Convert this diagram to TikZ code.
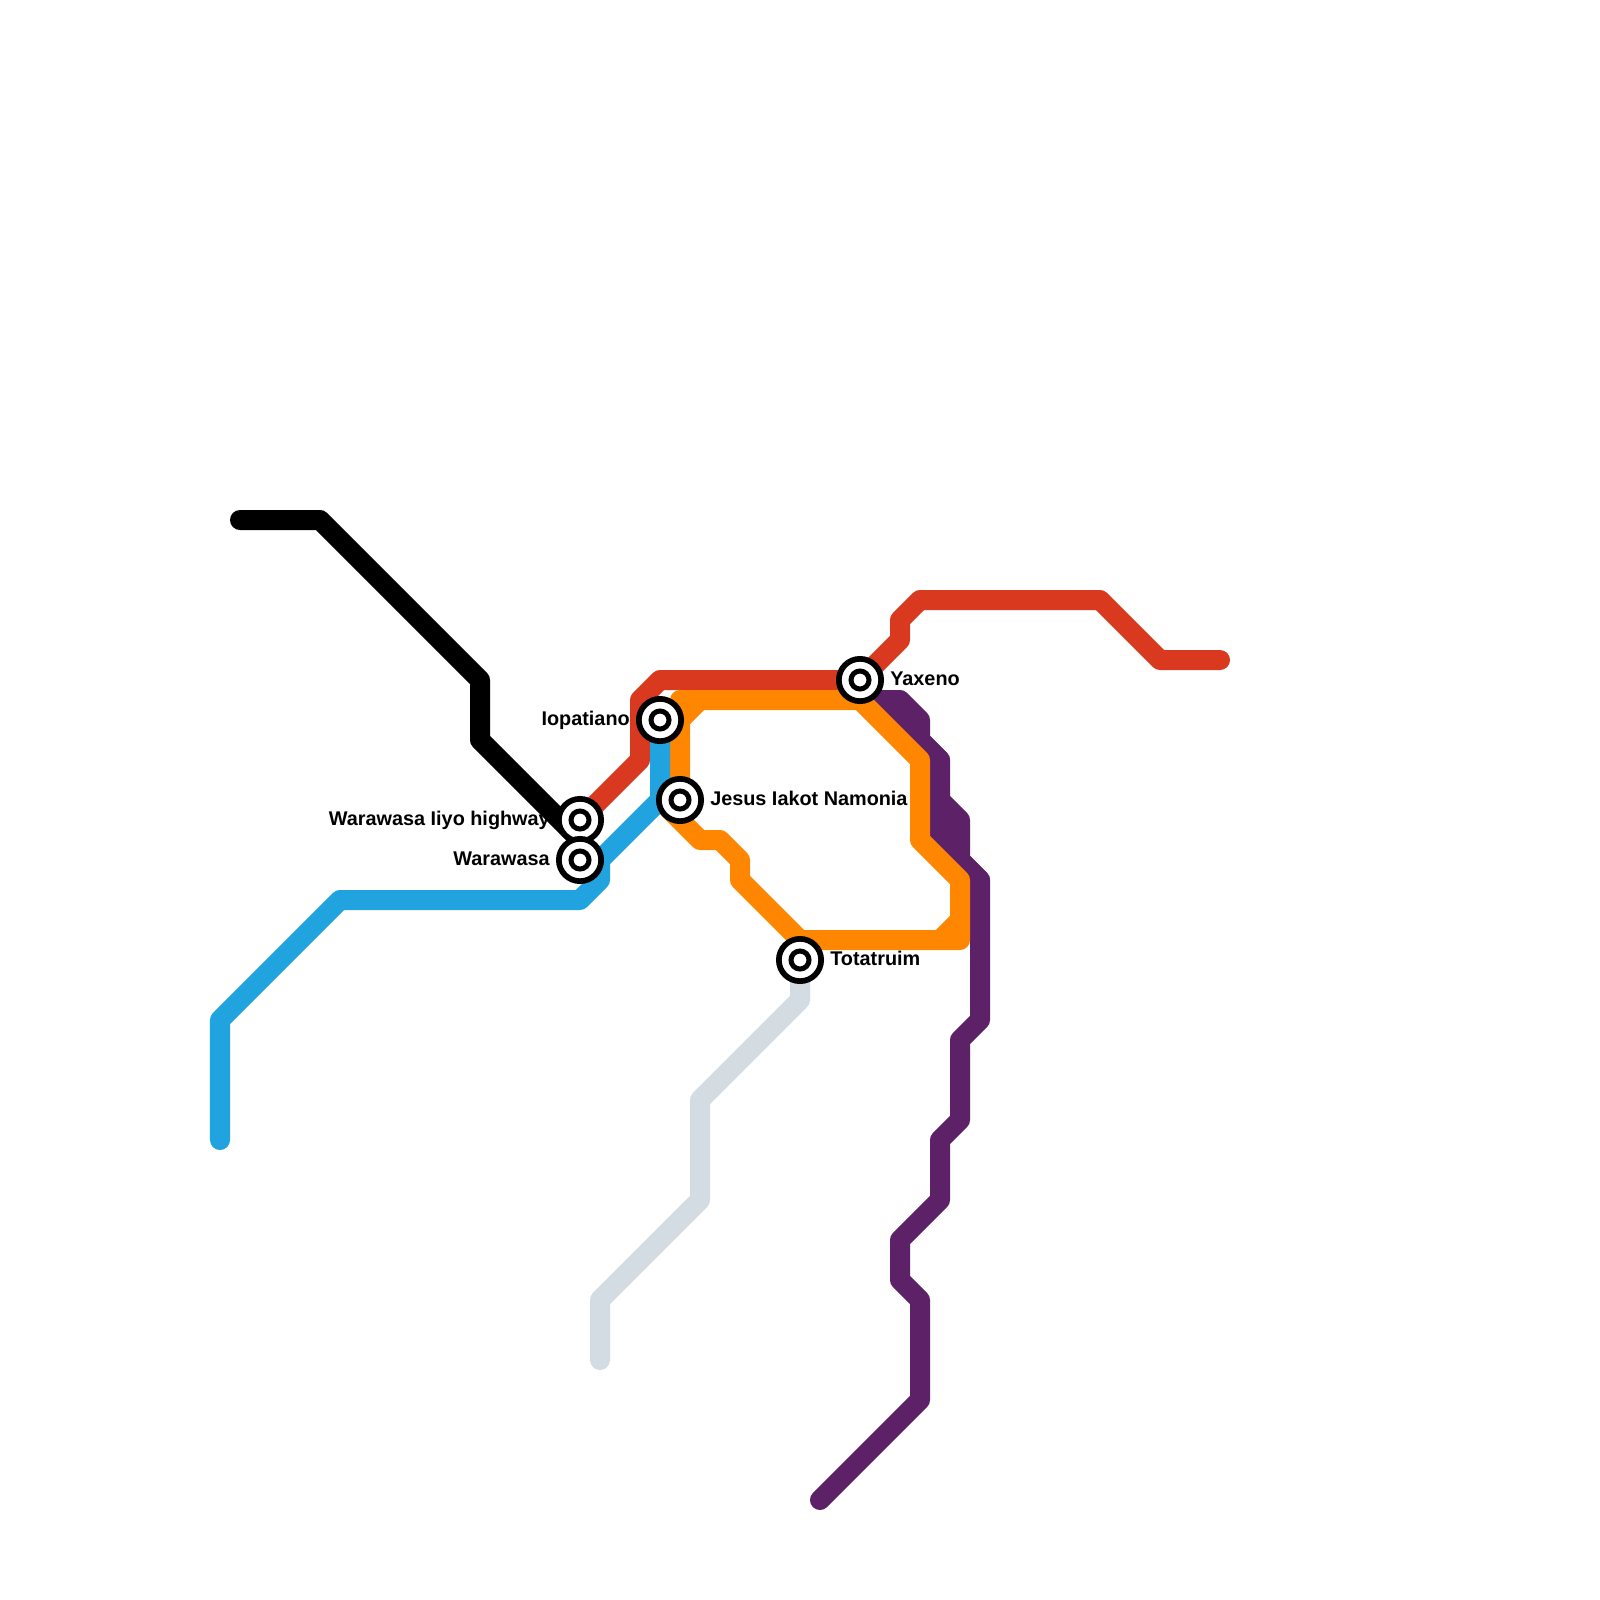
\documentclass[tikz,border=0pt]{standalone}
\usepackage{fontspec}
\setmainfont{Liberation Sans}
\usetikzlibrary{positioning}
\definecolor{linered}{HTML}{D8391F}
\definecolor{lineorange}{HTML}{FF8600}
\definecolor{lineblue}{HTML}{21A3E0}
\definecolor{linepurple}{HTML}{5C2166}
\definecolor{linegrey}{HTML}{D3DCE3}

\begin{document}
\begin{tikzpicture}[
  x=0.025cm, y=-0.025cm,
  node distance=0.15cm,
  route/.style={line width=0.5cm, line cap=round, line join=round},
  station/.style={circle, draw=black, fill=white, line width=0.1425cm, minimum size=1.0575cm, inner sep=0pt},
  hub/.style={circle, draw=black, fill=white, line width=0.125cm, minimum size=0.45cm, inner sep=0pt},
  lbl/.style={font=\bfseries\fontsize{14.1pt}{16pt}\selectfont, inner sep=0pt, text height=1.7ex, text depth=0.3ex}]
  \useasboundingbox (0,0) rectangle (1600,1600);

  % stops first, the routes are laid under them
  \coordinate (yax) at (860,680);
  \coordinate (iop) at (660,720);
  \coordinate (jes) at (680,800);
  \coordinate (lii) at (580,820);
  \coordinate (war) at (580,860);
  \coordinate (tot) at (800,960);
  \coordinate (blk) at (580,840);

  \draw[route, black] (240,520) -- (320,520) -- (480,680) -- (480,740) -- (blk);
  \draw[route, linegrey] (tot) -- (800,1000) -- (700,1100) -- (700,1200) -- (600,1300) -- (600,1360);
  \draw[route, linered] (lii) -- (640,760) -- (640,700) -- (660,680) -- (yax) -- (900,640) -- (900,620) -- (920,600) -- (1100,600) -- (1160,660) -- (1220,660);

  % purple is three routes side by side
  \draw[route, linepurple] (820,1500) -- (920,1400) -- (920,1300) -- (900,1280) -- (900,1240) -- (940,1200) -- (940,1140) -- (960,1120) -- (960,1040) -- (980,1020) -- (980,880) -- (960,860) -- (960,820) -- (940,800) -- (940,760) -- (920,740) -- (920,720) -- (900,700) -- (860,700);
  \draw[route, linepurple] (940,800) -- (940,840) -- (980,880);
  \draw[route, linepurple] (880,700) -- (940,760);

  \draw[route, lineorange] (jes) -- (680,700) -- (860,700) -- (920,760) -- (920,840) -- (960,880) -- (960,940) -- (800,940) -- (740,880) -- (740,860) -- (720,840) -- (700,840) -- (660,800);
  \draw[route, lineorange] (680,720) -- (700,700);
  \draw[route, lineorange] (960,920) -- (940,940);
  \draw[route, lineblue] (iop) -- (660,800) -- (600,860) -- (600,880) -- (580,900) -- (340,900) -- (220,1020) -- (220,1140);

  \foreach \n/\p in {yaxeno/yax, iopatiano/iop, jesus/jes, liyo/lii, warawasa/war, totatruim/tot} {
    \node[station] (\n) at (\p) {};
    \node[hub] (\n-core) at (\p) {};
  }

  \node[lbl, right=of yaxeno] (yaxeno-text) {Yaxeno};
  \node[lbl, left=of iopatiano] (iopatiano-text) {Iopatiano};
  \node[lbl, right=of jesus] (jesus-text) {Jesus Iakot Namonia};
  \node[lbl, left=of liyo] (liyo-text) {Warawasa Iiyo highway};
  \node[lbl, left=of warawasa] (warawasa-text) {Warawasa};
  \node[lbl, right=of totatruim] (totatruim-text) {Totatruim};
\end{tikzpicture}
\end{document}
